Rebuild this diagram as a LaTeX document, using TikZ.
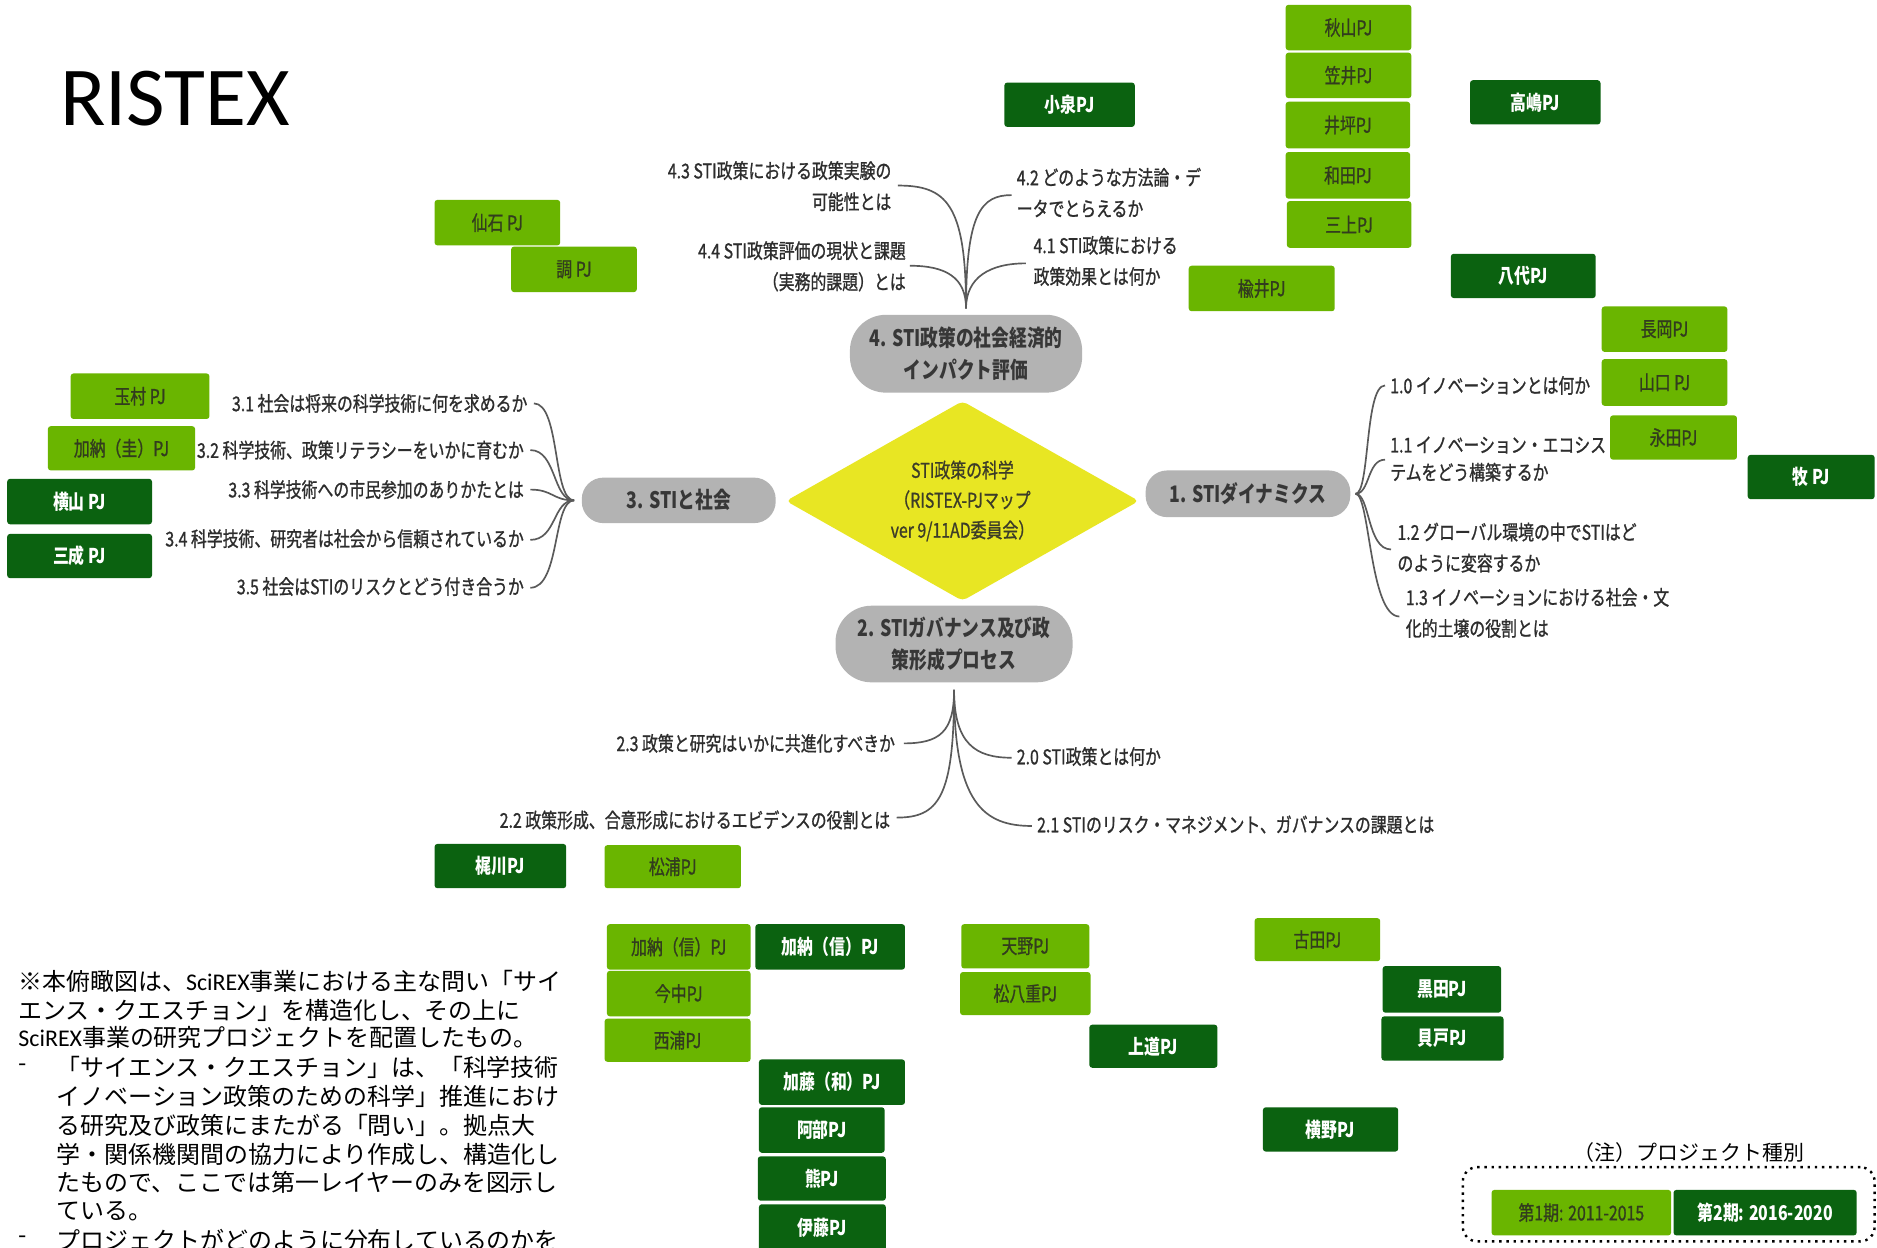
\documentclass[tikz,border=0pt]{standalone}
\usepackage{fontspec}
\setmainfont{Noto Sans CJK JP}
\newfontfamily\nar[FakeStretch=0.78]{Noto Sans CJK JP}
\newfontfamily\narm[FakeStretch=0.78,FakeBold=1]{Noto Sans CJK JP}
\newfontfamily\calf{Carlito}
\usetikzlibrary{shapes.geometric}

\definecolor{pjlight}{RGB}{106,181,0}
\definecolor{pjdark}{RGB}{11,98,16}
\definecolor{pjltext}{RGB}{50,60,30}
\definecolor{topicgray}{RGB}{179,179,179}
\definecolor{topictext}{RGB}{55,55,55}
\definecolor{coreyellow}{RGB}{232,230,35}
\definecolor{coretext}{RGB}{60,60,40}
\definecolor{branchline}{RGB}{90,90,90}
\definecolor{labeltext}{RGB}{45,45,45}

\tikzset{
 pjL/.style={rectangle, rounded corners=1.2pt, fill=pjlight, text=pjltext, inner sep=0pt, font=\narm\fontsize{8.5}{10}\selectfont},
 pjD/.style={rectangle, rounded corners=1.2pt, fill=pjdark, text=white, inner sep=0pt, font=\nar\bfseries\fontsize{8.5}{10}\selectfont},
 topic/.style={rectangle, fill=topicgray, text=topictext, inner sep=0pt, align=center, font=\nar\bfseries\fontsize{9.5}{13}\selectfont},
 qlabel/.style={inner sep=0pt, text=labeltext, font=\narm\fontsize{8.5}{13}\selectfont},
 branch/.style={draw=branchline, line width=0.7pt},
 notetext/.style={inner sep=0pt, anchor=west, font=\fontsize{10}{12}\selectfont, text=black},
}

\newcommand\pjbox[7]{\node[#6, minimum width={(#4-#2)*0.5pt}, minimum height={(#5-#3)*0.5pt}] (#1) at ({(#2+#4)/2},{(#3+#5)/2}) {#7};}

\begin{document}
\begin{tikzpicture}[x=0.5pt,y=-0.5pt]
\useasboundingbox[fill=white] (0,0) rectangle (1568,1042);

% title
\node[anchor=base west, inner sep=0pt, font=\calf\fontsize{35}{40}\selectfont] (title) at (50,104.5) {RISTEX};

% core and topics
\node[diamond, fill=coreyellow, minimum width=147.5pt, minimum height=83.5pt, inner sep=0pt, aspect=1.77, rounded corners=2pt, text=coretext, align=center, font=\narm\fontsize{8.5}{12.5}\selectfont] (core) at (804,418.5) {STI政策の科学\\（RISTEX-PJマップ\\ver 9/11AD委員会）};

\node[topic, minimum width=97pt, minimum height=32.5pt, rounded corners=15pt] (b4) at (807,295.5) {4. STI政策の社会経済的\\インパクト評価};
\node[topic, minimum width=81pt, minimum height=19pt, rounded corners=9pt] (b3) at (567,418) {3. STIと社会};
\node[topic, minimum width=85.5pt, minimum height=19.5pt, rounded corners=9pt] (b1) at (1042.5,412.5) {1. STIダイナミクス};
\node[topic, minimum width=99pt, minimum height=32pt, rounded corners=15pt] (b2) at (797,538) {2. STIガバナンス及び政\\策形成プロセス};

% junctions and branch ends
\coordinate (j4) at ([yshift=2.5pt]b4.north);
\coordinate (j2) at ([yshift=-3pt]b2.south);
\coordinate (j3) at ([xshift=-3pt]b3.west);
\coordinate (j1) at ([xshift=2pt]b1.east);

\coordinate (c43) at (750,155);
\coordinate (c44) at (760,222);
\coordinate (c42) at (845,163);
\coordinate (c41) at (857,220);

\coordinate (c23) at (755,621);
\coordinate (c20) at (845,633);
\coordinate (c22) at (749,683);
\coordinate (c21) at (862,690);

\coordinate (c31) at (446,337);
\coordinate (c32) at (443,376);
\coordinate (c33) at (443,409);
\coordinate (c34) at (443,451);
\coordinate (c35) at (443,491);

\coordinate (c10) at (1157,322);
\coordinate (c11) at (1157,384);
\coordinate (c12) at (1162,459);
\coordinate (c13) at (1169,515);

% branches
\draw[branch] (j4) .. controls +(0,-88) and +(40,0) .. (c43);
\draw[branch] (j4) .. controls +(0,-26) and +(30,0) .. (c44);
\draw[branch] (j4) .. controls +(0,-80) and +(-25,0) .. (c42);
\draw[branch] (j4) .. controls +(0,-26) and +(-30,0) .. (c41);

\draw[branch] (j2) .. controls +(0,35) and +(30,0) .. (c23);
\draw[branch] (j2) .. controls +(0,45) and +(-30,0) .. (c20);
\draw[branch] (j2) .. controls +(0,90) and +(35,0) .. (c22);
\draw[branch] (j2) .. controls +(0,95) and +(-40,0) .. (c21);

\draw[branch] (j3) .. controls +(-18,0) and +(22,0) .. (c31);
\draw[branch] (j3) .. controls +(-18,0) and +(22,0) .. (c32);
\draw[branch] (j3) .. controls +(-18,0) and +(19,0) .. (c33);
\draw[branch] (j3) .. controls +(-18,0) and +(22,0) .. (c34);
\draw[branch] (j3) .. controls +(-18,0) and +(25,0) .. (c35);

\draw[branch] (j1) .. controls +(12,0) and +(-17,0) .. (c10);
\draw[branch] (j1) .. controls +(12,0) and +(-15,0) .. (c11);
\draw[branch] (j1) .. controls +(12,0) and +(-20,0) .. (c12);
\draw[branch] (j1) .. controls +(12,0) and +(-25,0) .. (c13);

% question labels
\node[qlabel, anchor=east, align=right] (l43) at (745,155.5) {4.3 STI政策における政策実験の\\可能性とは};
\node[qlabel, anchor=east, align=right] (l44) at (757,222.5) {4.4 STI政策評価の現状と課題\\（実務的課題）とは};
\node[qlabel, anchor=west, align=left] (l42) at (849,161) {4.2 どのような方法論・デ\\ータでとらえるか};
\node[qlabel, anchor=west, align=left] (l41) at (863,218) {4.1 STI政策における\\政策効果とは何か};

\node[qlabel, anchor=east] (l31) at (441,337) {3.1 社会は将来の科学技術に何を求めるか};
\node[qlabel, anchor=east] (l32) at (438,376) {3.2 科学技術、政策リテラシーをいかに育むか};
\node[qlabel, anchor=east] (l33) at (438,409) {3.3 科学技術への市民参加のありかたとは};
\node[qlabel, anchor=east] (l34) at (438,450) {3.4 科学技術、研究者は社会から信頼されているか};
\node[qlabel, anchor=east] (l35) at (438,490) {3.5 社会はSTIのリスクとどう付き合うか};

\node[qlabel, anchor=west] (l10) at (1161,322) {1.0 イノベーションとは何か};
\node[qlabel, anchor=west, align=left, font=\narm\fontsize{8.5}{11.5}\selectfont] (l11) at (1161,383.5) {1.1 イノベーション・エコシス\\テムをどう構築するか};
\node[qlabel, anchor=west, align=left] (l12) at (1167,457.5) {1.2 グローバル環境の中でSTIはど\\のように変容するか};
\node[qlabel, anchor=west, align=left] (l13) at (1174,512) {1.3 イノベーションにおける社会・文\\化的土壌の役割とは};

\node[qlabel, anchor=east] (l23) at (748,621) {2.3 政策と研究はいかに共進化すべきか};
\node[qlabel, anchor=east] (l22) at (744,685) {2.2 政策形成、合意形成におけるエビデンスの役割とは};
\node[qlabel, anchor=west] (l20) at (849,632) {2.0 STI政策とは何か};
\node[qlabel, anchor=west] (l21) at (866,689) {2.1 STIのリスク・マネジメント、ガバナンスの課題とは};

% project boxes
\pjbox{akiyama}{1074}{4}{1179}{42}{pjL}{秋山PJ}
\pjbox{kasai}{1074}{44}{1179}{82}{pjL}{笠井PJ}
\pjbox{itsubo}{1074}{85}{1178}{124}{pjL}{井坪PJ}
\pjbox{wada}{1074}{127}{1178}{166}{pjL}{和田PJ}
\pjbox{mikami}{1075}{168}{1179}{207}{pjL}{三上PJ}
\pjbox{koizumi}{839}{69}{948}{106}{pjD}{小泉PJ}
\pjbox{takashima}{1228}{67}{1337}{104}{pjD}{高嶋PJ}
\pjbox{sengoku}{363}{167}{468}{205}{pjL}{仙石 PJ}
\pjbox{shirabe}{427}{206}{532}{244}{pjL}{調 PJ}
\pjbox{nirei}{993}{222}{1115}{260}{pjL}{楡井PJ}
\pjbox{yashiro}{1212}{212}{1333}{249}{pjD}{八代PJ}
\pjbox{nagaoka}{1338}{256}{1443}{294}{pjL}{長岡PJ}
\pjbox{yamaguchi}{1338}{300}{1443}{339}{pjL}{山口 PJ}
\pjbox{nagata}{1345}{347}{1451}{384}{pjL}{永田PJ}
\pjbox{maki}{1460}{380}{1566}{417}{pjD}{牧 PJ}
\pjbox{tamura}{59}{312}{175}{350}{pjL}{玉村 PJ}
\pjbox{kanok}{40}{356}{163}{393}{pjL}{加納（圭）PJ}
\pjbox{yokoyama}{6}{400}{127}{438}{pjD}{横山 PJ}
\pjbox{mitsunari}{6}{446}{127}{483}{pjD}{三成 PJ}
\pjbox{kajikawa}{363}{705}{473}{742}{pjD}{梶川PJ}
\pjbox{matsuura}{505}{706}{619}{742}{pjL}{松浦PJ}
\pjbox{kanosL}{507}{772}{627}{810}{pjL}{加納（信）PJ}
\pjbox{kanosD}{631}{772}{756}{810}{pjD}{加納（信）PJ}
\pjbox{imanaka}{507}{811}{627}{849}{pjL}{今中PJ}
\pjbox{nishiura}{505}{851}{627}{887}{pjL}{西浦PJ}
\pjbox{katou}{634}{885}{756}{923}{pjD}{加藤（和）PJ}
\pjbox{abe}{634}{925}{739}{963}{pjD}{阿部PJ}
\pjbox{kuma}{633}{966}{740}{1003}{pjD}{熊PJ}
\pjbox{itou}{634}{1006}{740}{1046}{pjD}{伊藤PJ}
\pjbox{amano}{803}{772}{910}{809}{pjL}{天野PJ}
\pjbox{matsuyae}{802}{812}{911}{848}{pjL}{松八重PJ}
\pjbox{uemichi}{910}{856}{1017}{892}{pjD}{上道PJ}
\pjbox{furuta}{1048}{767}{1153}{803}{pjL}{古田PJ}
\pjbox{kuroda}{1155}{807}{1254}{846}{pjD}{黒田PJ}
\pjbox{kaito}{1154}{849}{1256}{886}{pjD}{貝戸PJ}
\pjbox{yokono}{1055}{925}{1168}{962}{pjD}{横野PJ}

% legend
\node[draw, dotted, line width=1pt, rounded corners=6pt, minimum width=172pt, minimum height=31pt, inner sep=0pt] (legend) at (1394,1006) {};
\node[inner sep=0pt, font=\fontsize{8.75}{10}\selectfont] (legendtitle) at (1411,963) {（注）プロジェクト種別};
\pjbox{phase1}{1246}{994}{1396}{1032}{pjL}{第1期: 2011-2015}
\pjbox{phase2}{1398}{994}{1551}{1032}{pjD}{第2期: 2016-2020}

% note
\node[notetext] (n1) at (15,820) {※本俯瞰図は、{\calf SciREX}事業における主な問い「サイ};
\node[notetext] (n2) at (15,844) {エンス・クエスチョン」を構造化し、その上に};
\node[notetext] (n3) at (15,867) {{\calf SciREX}事業の研究プロジェクトを配置したもの。};
\node[notetext] (n4d) at (15,892) {-};
\node[notetext] (n4) at (47,892) {「サイエンス・クエスチョン」は、「科学技術};
\node[notetext] (n5) at (47,916) {イノベーション政策のための科学」推進におけ};
\node[notetext] (n6) at (47,940) {る研究及び政策にまたがる「問い」。拠点大};
\node[notetext] (n7) at (47,964) {学・関係機関間の協力により作成し、構造化し};
\node[notetext] (n8) at (47,988) {たもので、ここでは第一レイヤーのみを図示し};
\node[notetext] (n9) at (47,1012) {ている。};
\node[notetext] (n10d) at (15,1036) {-};
\node[notetext] (n10) at (47,1036) {プロジェクトがどのように分布しているのかを};
\end{tikzpicture}
\end{document}
